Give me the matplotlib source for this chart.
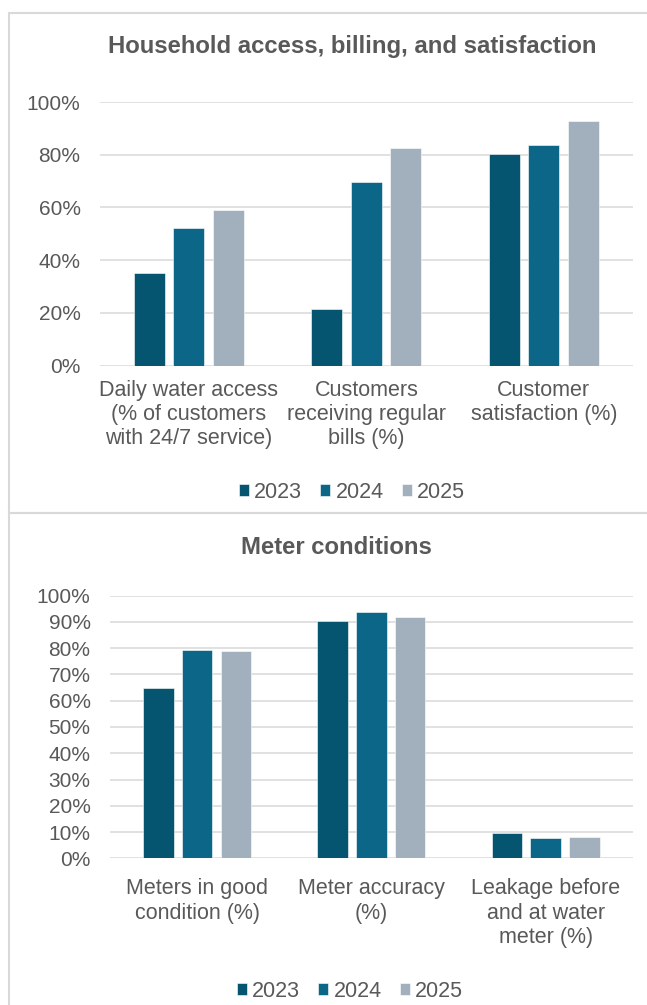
import matplotlib.pyplot as plt
import numpy as np
from matplotlib.patches import Rectangle
from matplotlib.ticker import FuncFormatter, MultipleLocator

plt.rcParams['font.family'] = ['Liberation Sans', 'DejaVu Sans']

years = ['2023', '2024', '2025']
colors = ['#065570', '#0B6688', '#A2B0BD']
text_color = '#595959'
grid_color = '#D9D9D9'

# Panel 1: household access, billing, satisfaction (%)
cats_top = ['Daily water access\n(% of customers\nwith 24/7 service)',
            'Customers\nreceiving regular\nbills (%)',
            'Customer\nsatisfaction (%)']
vals_top_2023 = [35.1, 21.5, 80.1]
vals_top_2024 = [52.1, 69.6, 83.6]
vals_top_2025 = [59.1, 82.4, 92.9]

# Panel 2: meter conditions (%)
cats_bot = ['Meters in good\ncondition (%)',
            'Meter accuracy\n(%)',
            'Leakage before\nand at water\nmeter (%)']
vals_bot_2023 = [64.9, 90.3, 9.5]
vals_bot_2024 = [79.2, 93.9, 7.7]
vals_bot_2025 = [78.9, 91.9, 8.2]

W, H = 647, 1005
fig = plt.figure(figsize=(W / 100, H / 100), dpi=100)


def fx(px):
    return px / W


def fy(py):
    return 1 - py / H


# panel borders
for top, bottom in [(13.5, 513), (513, 1030)]:
    fig.patches.append(Rectangle((fx(8.5), fy(bottom)), fx(720), (bottom - top) / H,
                                 transform=fig.transFigure, fill=False,
                                 edgecolor=grid_color, linewidth=1.5, clip_on=False))


def draw_panel(rect, cats, series, step, title, title_xy, legend_xy, xpad):
    ax = fig.add_axes(rect)
    x = np.arange(len(cats))
    bw = 0.175
    off = 0.222
    for i, (vals, c, lab) in enumerate(zip(series, colors, years)):
        ax.bar(x + (i - 1) * off, vals, bw, color=c, label=lab,
               edgecolor='white', linewidth=0.4, zorder=3)
    ax.set_xlim(-0.5, len(cats) - 0.5)
    ax.set_ylim(0, 100)
    ax.yaxis.set_major_locator(MultipleLocator(step))
    ax.yaxis.set_major_formatter(FuncFormatter(lambda v, p: f'{v:.0f}%'))
    ax.grid(axis='y', color=grid_color, linewidth=1.1, zorder=0)
    for s in ax.spines.values():
        s.set_visible(False)
    ax.tick_params(axis='both', length=0, labelcolor=text_color)
    ax.tick_params(axis='y', pad=14, labelsize=15)
    ax.tick_params(axis='x', pad=xpad, labelsize=15.5)
    ax.set_xticks(x)
    ax.set_xticklabels(cats, linespacing=1.2)
    fig.text(fx(title_xy[0]), fy(title_xy[1]), title, ha='center', va='center',
             fontsize=17.2, fontweight='bold', color=text_color)
    leg = fig.legend(*ax.get_legend_handles_labels(), loc='center',
                     bbox_to_anchor=(fx(legend_xy[0]), fy(legend_xy[1])), ncol=3,
                     frameon=False, fontsize=15.5, handlelength=0.45, handleheight=0.45,
                     handletextpad=0.25, columnspacing=0.85, borderpad=0)
    for t in leg.get_texts():
        t.set_color(text_color)
    return ax


draw_panel([fx(100), fy(365.7), fx(632.7 - 100), (365.7 - 102) / H], cats_top,
           [vals_top_2023, vals_top_2024, vals_top_2025], 20,
           'Household access, billing, and satisfaction', (352, 46), (352, 492), 10)
draw_panel([fx(110), fy(858.3), fx(632.7 - 110), (858.3 - 595.7) / H], cats_bot,
           [vals_bot_2023, vals_bot_2024, vals_bot_2025], 10,
           'Meter conditions', (336, 548), (350, 991), 14.5)

fig.savefig('out.png', dpi=100)
